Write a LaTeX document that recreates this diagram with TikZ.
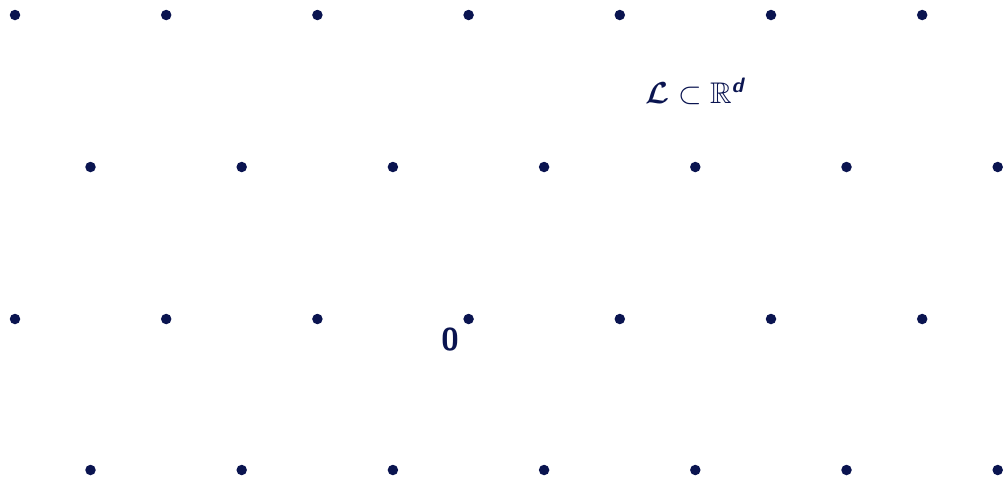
\documentclass[tikz,border=0pt]{standalone}
\usepackage{amsmath,amssymb,bm}
\definecolor{navy}{RGB}{10,20,80}
\begin{document}
\begin{tikzpicture}[x=0.02cm,y=-0.02cm,
  pt/.style={circle,fill=navy,inner sep=0pt,minimum size=10.5*0.02cm},
  lbl/.style={text=navy,inner sep=0pt}]
\useasboundingbox (0,0) rectangle (1005,478);
\foreach \r/\y/\xo in {0/15/15,1/167/90.5,2/319/15,3/470/90.5}{
  \foreach \c in {0,...,6}{
    \node[pt] (p\r\c) at ({\xo+\c*151.2},\y) {};
  }
}
\node[lbl,font=\fontsize{17}{20}\selectfont] (L) at (695,91) {$\bm{\mathcal{L}}\subset\mathbb{R}^{\text{\sffamily\bfseries\itshape d}}$};
\node[lbl,font=\fontsize{18}{20}\selectfont\sffamily\bfseries] (z) at (450,340) {0};
\end{tikzpicture}
\end{document}
